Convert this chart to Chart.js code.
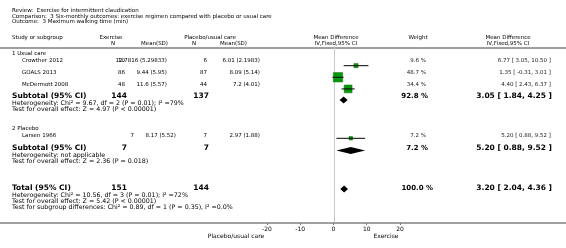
<!DOCTYPE html>
<html>
<head>
<meta charset="utf-8">
<script src="https://cdn.jsdelivr.net/npm/chart.js@4.4.1/dist/chart.umd.min.js"></script>
<style>
  html, body { margin: 0; padding: 0; background: #fff; }
  canvas { display: block; }
</style>
</head>
<body>
<canvas id="forest" width="566" height="248"></canvas>
<script>
// study level data
const studies = ['Crowther 2012', 'GOALS 2013', 'McDermott 2008', 'Larsen 1966'];
const exN = [10, 86, 48, 7];
const exMean = [12.7816, 9.44, 11.6, 8.17];
const exSD = [5.29833, 5.95, 5.57, 5.52];
const ctN = [6, 87, 44, 7];
const ctMean = [6.01, 8.09, 7.2, 2.97];
const ctSD = [2.1983, 5.14, 4.01, 1.88];
const md = [6.77, 1.35, 4.40, 5.20];
const ciLo = [3.05, -0.31, 2.43, 0.88];
const ciHi = [10.50, 3.01, 6.37, 9.52];
const weight = [9.6, 48.7, 34.4, 7.2];

// subgroups + total
const groups = ['1 Usual care', '2 Placebo'];
const subExN = [144, 7];
const subCtN = [137, 7];
const subMd = [3.05, 5.20];
const subLo = [1.84, 0.88];
const subHi = [4.25, 9.52];
const subW = [92.8, 7.2];
const subHet = ['Heterogeneity: Chi² = 9.67, df = 2 (P = 0.01); I² =79%', 'Heterogeneity: not applicable'];
const subTest = ['Test for overall effect: Z = 4.97 (P < 0.00001)', 'Test for overall effect: Z = 2.36 (P = 0.018)'];

const totExN = 151, totCtN = 144, totMd = 3.20, totLo = 2.04, totHi = 4.36, totW = 100.0;
const totNotes = [
  'Heterogeneity: Chi² = 10.56, df = 3 (P = 0.01); I² =72%',
  'Test for overall effect: Z = 5.42 (P < 0.00001)',
  'Test for subgroup differences: Chi² = 0.89, df = 1 (P = 0.35), I² =0.0%'
];
const xTicks = [-20, -10, 0, 10, 20];
const titleLines = [
  'Review:  Exercise for intermittent claudication',
  'Comparison:  3 Six-monthly outcomes: exercise regimen compared with placebo or usual care',
  'Outcome:  3 Maximum walking time (min)'
];

// layout (pixel rows, y scale is in pixels)
const studyRow = [60.5, 72.5, 84.5, 135.5];
const studyGroup = [0, 0, 0, 1];
const groupRow = [54, 129];
const subRow = [96, 148];
const totRow = 188;
const FONT = '"DejaVu Sans", sans-serif';

const fmt = v => v.toFixed(2);
const ciText = (m, l, h) => fmt(m) + ' [ ' + fmt(l) + ', ' + fmt(h) + ' ]';
const sqRadius = w => 0.95 * Math.sqrt(w);

function txt(ctx, s, x, y, opt) {
  opt = opt || {};
  ctx.font = (opt.bold ? 'bold ' : '') + (opt.size || 5.5) + 'px ' + FONT;
  ctx.fillStyle = opt.color || '#000';
  ctx.textAlign = opt.align || 'left';
  ctx.textBaseline = 'middle';
  ctx.fillText(s, x, y);
}

const forestText = {
  id: 'forestText',
  beforeDraw(chart) {
    const ctx = chart.ctx;
    ctx.save();
    ctx.fillStyle = '#fff';
    ctx.fillRect(0, 0, chart.width, chart.height);
    ctx.fillStyle = '#a0a0a0';
    ctx.fillRect(0, 47, chart.width, 2);
    ctx.fillRect(0, 222, chart.width, 2);
    // null line
    const x0 = Math.round(chart.scales.x.getPixelForValue(0)) + 0.5;
    ctx.strokeStyle = '#c8c8c8';
    ctx.lineWidth = 1;
    ctx.beginPath();
    ctx.moveTo(x0, 46);
    ctx.lineTo(x0, 222);
    ctx.stroke();
    ctx.restore();
  },
  afterDatasetsDraw(chart) {
    const ctx = chart.ctx;
    const xs = chart.scales.x, ys = chart.scales.y;
    ctx.save();
    ctx.fillStyle = '#000';
    const dia = (m, l, h, row) => {
      const y = ys.getPixelForValue(row);
      ctx.beginPath();
      ctx.moveTo(xs.getPixelForValue(l), y);
      ctx.lineTo(xs.getPixelForValue(m), y - 3.5);
      ctx.lineTo(xs.getPixelForValue(h), y);
      ctx.lineTo(xs.getPixelForValue(m), y + 3.5);
      ctx.closePath();
      ctx.fill();
    };
    subMd.forEach((m, g) => dia(m, subLo[g], subHi[g], subRow[g]));
    dia(totMd, totLo, totHi, totRow);
    ctx.restore();
  },
  afterDraw(chart) {
    const ctx = chart.ctx;
    ctx.save();
    titleLines.forEach((s, i) => txt(ctx, s, 12, 11 + i * 5.5, { size: 5.5 }));

    // headers
    txt(ctx, 'Study or subgroup', 12, 38);
    txt(ctx, 'Exercise', 111, 38, { align: 'center' });
    txt(ctx, 'N', 113, 44, { align: 'center' });
    txt(ctx, 'Mean(SD)', 168, 44, { align: 'right' });
    txt(ctx, 'Placebo/usual care', 210, 38, { align: 'center' });
    txt(ctx, 'N', 194, 44, { align: 'center' });
    txt(ctx, 'Mean(SD)', 220, 44);
    txt(ctx, 'Mean Difference', 336, 38, { align: 'center' });
    txt(ctx, 'IV,Fixed,95% CI', 336, 44, { align: 'center' });
    txt(ctx, 'Weight', 418, 38, { align: 'center' });
    txt(ctx, 'Mean Difference', 508, 38, { align: 'center' });
    txt(ctx, 'IV,Fixed,95% CI', 508, 44, { align: 'center' });

    groups.forEach((g, k) => txt(ctx, g, 12, groupRow[k]));

    studies.forEach((s, i) => {
      const y = studyRow[i];
      const sh = studyGroup[i] === 1 ? 9 : 0;
      txt(ctx, s, 22, y);
      txt(ctx, String(exN[i]), 125 + sh, y, { align: 'right' });
      txt(ctx, exMean[i] + ' (' + exSD[i] + ')', 167 + sh, y, { align: 'right' });
      txt(ctx, String(ctN[i]), 207, y, { align: 'right' });
      txt(ctx, ctMean[i] + ' (' + ctSD[i] + ')', 260, y, { align: 'right' });
      txt(ctx, weight[i].toFixed(1) + ' %', 426, y, { align: 'right', color: '#222' });
      txt(ctx, ciText(md[i], ciLo[i], ciHi[i]), 551, y, { align: 'right', color: '#222' });
    });

    subMd.forEach((m, g) => {
      const y = subRow[g];
      txt(ctx, 'Subtotal (95% CI)', 12, y, { bold: true, size: 7.5 });
      txt(ctx, String(subExN[g]), 127, y, { bold: true, size: 7.5, align: 'right' });
      txt(ctx, String(subCtN[g]), 209, y, { bold: true, size: 7.5, align: 'right' });
      txt(ctx, subW[g].toFixed(1) + ' %', 428, y, { bold: true, size: 7, align: 'right' });
      txt(ctx, ciText(m, subLo[g], subHi[g]), 552, y, { bold: true, size: 7.5, align: 'right' });
      txt(ctx, subHet[g], 12, y + 7.5, { size: 6.3 });
      txt(ctx, subTest[g], 12, y + 13.8, { size: 6.3 });
    });

    txt(ctx, 'Total (95% CI)', 12, totRow, { bold: true, size: 7.5 });
    txt(ctx, String(totExN), 127, totRow, { bold: true, size: 7.5, align: 'right' });
    txt(ctx, String(totCtN), 209, totRow, { bold: true, size: 7.5, align: 'right' });
    txt(ctx, totW.toFixed(1) + ' %', 433, totRow, { bold: true, size: 7, align: 'right' });
    txt(ctx, ciText(totMd, totLo, totHi), 552, totRow, { bold: true, size: 7.5, align: 'right' });
    totNotes.forEach((s, i) => txt(ctx, s, 12, totRow + 7 + i * 6.2, { size: 6.3 }));

    txt(ctx, 'Placebo/usual care', 236, 236, { align: 'center', size: 6 });
    txt(ctx, 'Exercise', 386, 236, { align: 'center', size: 6 });
    ctx.restore();
  }
};

const lineSets = studies.map((s, i) => ({
  type: 'line',
  label: s,
  data: [{ x: ciLo[i], y: studyRow[i] }, { x: ciHi[i], y: studyRow[i] }],
  borderColor: '#000',
  borderWidth: 1,
  pointRadius: 0,
  order: 0
}));

new Chart(document.getElementById('forest'), {
  type: 'scatter',
  data: {
    datasets: [{
      label: 'Mean difference',
      data: studies.map((s, i) => ({ x: md[i], y: studyRow[i] })),
      pointStyle: 'rect',
      pointRadius: weight.map(sqRadius),
      backgroundColor: '#0a960a',
      borderColor: '#0a7a0a',
      borderWidth: 0.5,
      order: 1
    }].concat(lineSets)
  },
  options: {
    responsive: false,
    animation: false,
    events: [],
    layout: { padding: { left: 267, right: 166, top: 0, bottom: 0 } },
    plugins: { legend: { display: false }, tooltip: { enabled: false } },
    scales: {
      x: {
        type: 'linear',
        min: -20,
        max: 20,
        afterBuildTicks: s => { s.ticks = xTicks.map(v => ({ value: v })); },
        afterFit: s => { s.height = 25; },
        grid: { drawOnChartArea: false, tickLength: 2, color: '#777' },
        border: { display: false },
        ticks: { font: { family: FONT, size: 6 }, color: '#000', padding: 1, maxRotation: 0 }
      },
      y: { type: 'linear', min: 0, max: 223, reverse: true, display: false }
    }
  },
  plugins: [forestText]
});
</script>
</body>
</html>
